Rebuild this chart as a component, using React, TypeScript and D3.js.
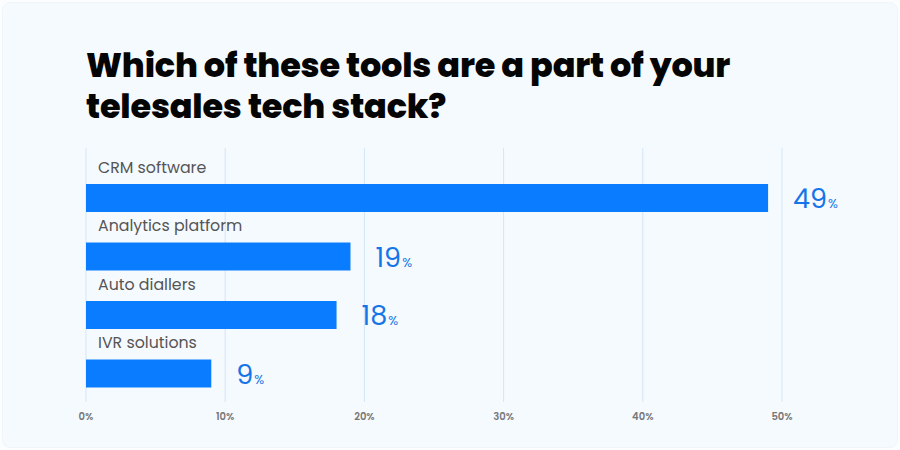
import React from "react";
import * as d3 from "d3";

const categories: string[] = ["CRM software", "Analytics platform", "Auto diallers", "IVR solutions"];
const values: number[] = [49, 19, 18, 9];
const ticks: number[] = [0, 10, 20, 30, 40, 50];
const titleLines: string[] = ["Which of these tools are a part of your", "telesales tech stack?"];

const W = 900;
const H = 450;

export default function App() {
  const x = d3.scaleLinear().domain([0, 50]).range([86, 782]);
  const y = d3.scaleBand<string>().domain(categories).range([155.5, 389.5]).paddingInner(0).paddingOuter(0);
  const barH = 28;
  const font = "Poppins, Inter, 'Open Sans', sans-serif";

  return (
    <svg width={W} height={H} style={{ position: "absolute", left: 0, top: 0 }} xmlns="http://www.w3.org/2000/svg">
      <rect x={0} y={0} width={W} height={H} fill="#fbfdff" />
      <rect x={2.5} y={2.5} width={W - 5} height={H - 5} rx={8} fill="#f5faff" stroke="#f0f5fa" strokeWidth={1} />
      <text fontFamily={font} fontWeight={800} fontSize={33.5} fill="#050505" letterSpacing={-0.2}>
        {titleLines.map((t, i) => (
          <tspan key={i} x={86} y={77 + i * 41}>
            {t}
          </tspan>
        ))}
      </text>
      {ticks.map((t) => (
        <g key={t}>
          <line x1={x(t)} x2={x(t)} y1={148} y2={402} stroke="#d3e6f5" strokeWidth={1} />
          <text x={x(t)} y={420} textAnchor="middle" fontFamily={font} fontWeight={600} fontSize={10} fill="#777777">
            {t}%
          </text>
        </g>
      ))}
      {categories.map((c, i) => {
        const y0 = y(c) as number;
        const v = values[i];
        return (
          <g key={c}>
            <text x={98} y={y0 + 17} fontFamily={font} fontSize={15.8} fill="#555555">
              {c}
            </text>
            <rect x={x(0)} y={y0 + 28.5} width={x(v) - x(0)} height={barH} fill="#0a7cff" />
            <text x={x(v) + 25} y={y0 + 28.5 + barH / 2 + 10} fontFamily={font} fontSize={27} fill="#1675e6">
              {v}
              <tspan fontSize={13} dx={1}>%</tspan>
            </text>
          </g>
        );
      })}
    </svg>
  );
}
